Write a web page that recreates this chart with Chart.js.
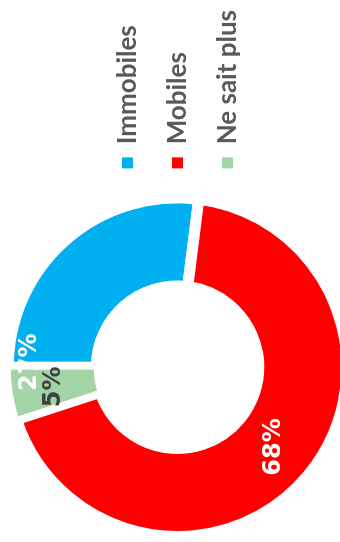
<!DOCTYPE html>
<html>
<head>
<meta charset="utf-8">
<script src="https://cdn.jsdelivr.net/npm/chart.js@4"></script>
<style>
  html, body { margin: 0; padding: 0; background: #fff; }
  body { width: 340px; height: 542px; overflow: hidden; position: relative; }
  /* chart is laid out landscape, then turned a quarter turn */
  #wrap {
    position: absolute; left: 0; top: 0;
    width: 542px; height: 354px;
    transform-origin: 0 0;
    transform: translateY(542px) rotate(-90deg);
  }
</style>
</head>
<body>
<div id="wrap"><canvas id="pieChart" width="542" height="354"></canvas></div>
<script>
// donut data
var categories = [ "Immobiles", "Mobiles", "Ne sait plus" ];
var values = [ 27, 68, 5 ];
var colors = [ "#00B0F0", "#FF0000", "#A3D4A6" ];
var labelColors = [ "#ffffff", "#ffffff", "#404040" ];
// where each value label sits inside its slice: [fraction along the arc, fraction across the ring]
var labelAnchors = [ [ 0.02, 0.76 ], [ 0.5, 0.5 ], [ 0.5, 0.5 ] ];

var sliceLabels = {
        id: 'sliceLabels',
        afterDatasetsDraw: function ( chart )
        {
                var ctx = chart.ctx;
                var meta = chart.getDatasetMeta( 0 );
                ctx.save();
                ctx.font = "bold 24px 'DejaVu Sans'";
                ctx.textAlign = 'center';
                ctx.textBaseline = 'middle';
                meta.data.forEach( function ( arc, i )
                {
                        var p = arc.getProps( [ 'x', 'y', 'startAngle', 'endAngle', 'innerRadius', 'outerRadius' ], true );
                        var a = p.startAngle + labelAnchors[ i ][ 0 ] * ( p.endAngle - p.startAngle );
                        var r = p.innerRadius + labelAnchors[ i ][ 1 ] * ( p.outerRadius - p.innerRadius );
                        ctx.fillStyle = labelColors[ i ];
                        ctx.fillText( values[ i ] + "%", p.x + Math.cos( a ) * r, p.y + Math.sin( a ) * r );
                } );
                ctx.restore();
        }
};

var ctxP = document.getElementById( "pieChart" ).getContext( '2d' );
var myPieChart = new Chart( ctxP, {
        type: 'doughnut',
        plugins: [ sliceLabels ],
        data: {
                labels: categories,
                datasets: [ {
                        data: values,
                        backgroundColor: colors,
                        borderColor: '#ffffff',
                        borderWidth: [ 11, 11, 5 ],
                        hoverBorderWidth: [ 11, 11, 5 ]
                } ]
        },
        options: {
                responsive: false,
                animation: false,
                cutout: '48%',
                layout: { padding: { top: 1, bottom: 0, left: 0, right: 0 } },
                plugins: {
                        tooltip: { enabled: false },
                        legend: {
                                position: 'right',
                                labels: {
                                        boxWidth: 11,
                                        boxHeight: 11,
                                        padding: 24,
                                        color: '#595959',
                                        font: { family: 'Lato', weight: 'bold', size: 26 },
                                        generateLabels: function ( chart )
                                        {
                                                var items = Chart.overrides.doughnut.plugins.legend.labels.generateLabels( chart );
                                                items.forEach( function ( item ) { item.lineWidth = 0; } );
                                                return items;
                                        }
                                }
                        }
                }
        }
} );
</script>
</body>
</html>
